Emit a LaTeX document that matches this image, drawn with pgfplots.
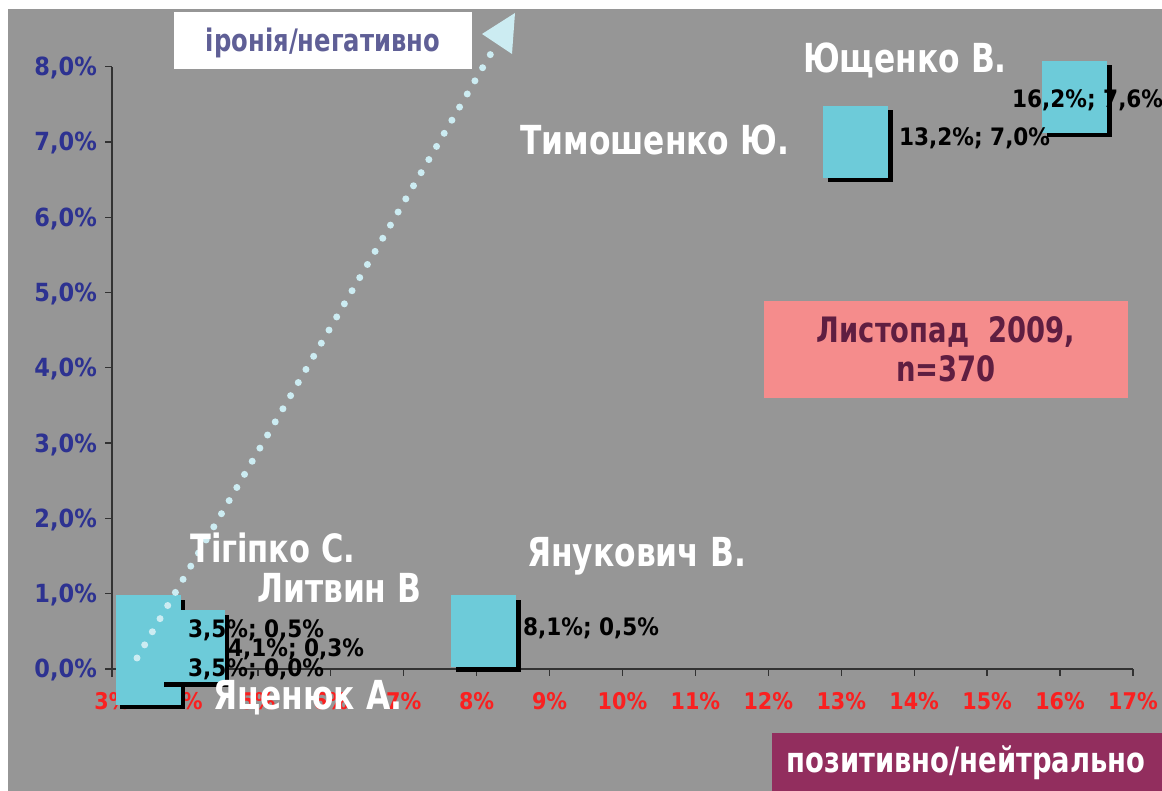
\documentclass[border=0pt]{standalone}
\usepackage{fontspec}
\setmainfont{DejaVu Sans Condensed}
\newfontfamily\nf{DejaVu Sans Condensed}[FakeStretch=0.87]
\usepackage{pgfplots}
\pgfplotsset{compat=1.18}
\definecolor{bggray}{RGB}{150,150,150}
\definecolor{boxcyan}{RGB}{109,203,217}
\definecolor{tickblue}{RGB}{45,50,145}
\definecolor{tickred}{RGB}{250,32,32}
\definecolor{axisdark}{RGB}{50,50,50}
\definecolor{pinkbox}{RGB}{245,140,140}
\definecolor{pinktext}{RGB}{95,30,65}
\definecolor{slatetext}{RGB}{95,95,150}
\definecolor{purplebox}{RGB}{146,46,94}
\definecolor{arrowcyan}{RGB}{204,236,242}
\pgfdeclareplotmark{shadowbox}{%
  \pgfsetfillcolor{black}%
  \pgfpathrectangle{\pgfpoint{-28bp}{-40.5bp}}{\pgfpoint{65bp}{72bp}}%
  \pgfusepathqfill
  \pgfsetfillcolor{boxcyan}%
  \pgfpathrectangle{\pgfpoint{-32.5bp}{-36bp}}{\pgfpoint{65bp}{72bp}}%
  \pgfusepathqfill
}
\newcommand{\fs}[1]{\fontsize{#1bp}{#1bp}\selectfont\bfseries}
\newcommand{\fn}[1]{\nf\fontsize{#1bp}{#1bp}\selectfont\bfseries}
\begin{document}
\begin{tikzpicture}
\path[use as bounding box] (0,0) rectangle (1162bp,791bp);
\fill[white] (0,0) rectangle (1162bp,791bp);
\fill[bggray] (8bp,0) rectangle (1162bp,782bp);
\begin{axis}[
  at={(112bp,122bp)}, anchor=south west,
  scale only axis, width=1021bp, height=602.4bp,
  xmin=3, xmax=17, ymin=0, ymax=8,
  clip=false,
  axis x line*=bottom, axis y line*=left,
  axis line style={draw=axisdark, line width=1.3bp},
  tick align=outside, major tick length=7bp,
  tick style={draw=axisdark, line width=1.3bp},
  xtick={3,4,5,6,7,8,9,10,11,12,13,14,15,16,17},
  xticklabels={3\%,4\%,5\%,6\%,7\%,8\%,9\%,10\%,11\%,12\%,13\%,14\%,15\%,16\%,17\%},
  ytick={0,1,2,3,4,5,6,7,8},
  yticklabels={{0,0\%},{1,0\%},{2,0\%},{3,0\%},{4,0\%},{5,0\%},{6,0\%},{7,0\%},{8,0\%}},
  xticklabel style={text=tickred, font=\fs{23}, anchor=base, inner sep=0pt, yshift=-34bp},
  yticklabel style={text=tickblue, font=\fs{25}, anchor=base east, inner sep=0pt, xshift=-8bp, yshift=-9bp},
]
\addplot[only marks, mark=shadowbox] coordinates {
  (16.2,7.6) (13.2,7.0) (8.1,0.5) (3.5,0.5) (3.5,0.0) (4.1,0.3)
};
\end{axis}
\begin{scope}[x=1bp, y=-1bp, shift={(0bp,791bp)}]
  \draw[axisdark, line width=1.3bp] (112,669) -- (112,677);
  % dotted arrow
  \draw[arrowcyan, line width=7bp, line cap=round, dash pattern=on 0bp off 15.2bp] (137,658) -- (493,50);
  \fill[arrowcyan] (515,13) -- (482,34) -- (512,54) -- cycle;
  % data labels
  \node[anchor=base west, inner sep=0pt, font=\fs{24}] at (1012,108) {16,2\%; 7,6\%};
  \node[anchor=base west, inner sep=0pt, font=\fs{24}] at (899,146) {13,2\%; 7,0\%};
  \node[anchor=base west, inner sep=0pt, font=\fs{24}] at (523,636) {8,1\%; 0,5\%};
  \node[anchor=base west, inner sep=0pt, font=\fs{24}] at (188,638) {3,5\%; 0,5\%};
  \node[anchor=base west, inner sep=0pt, font=\fs{24}] at (228,657) {4,1\%; 0,3\%};
  \node[anchor=base west, inner sep=0pt, font=\fs{24}] at (188,677) {3,5\%; 0,0\%};
  % names
  \node[anchor=base west, inner sep=0pt, text=white, font=\fn{40}] at (803,73) {Ющенко В.};
  \node[anchor=base west, inner sep=0pt, text=white, font=\fn{40}] at (520,155) {Тимошенко Ю.};
  \node[anchor=base west, inner sep=0pt, text=white, font=\fn{39}] at (190,563) {Тігіпко С.};
  \node[anchor=base west, inner sep=0pt, text=white, font=\fn{40}] at (257,603) {Литвин В};
  \node[anchor=base west, inner sep=0pt, text=white, font=\fn{40}] at (527,567) {Янукович В.};
  \node[anchor=base west, inner sep=0pt, text=white, font=\fn{40}] at (213,710) {Яценюк А.};
  % boxes
  \fill[white] (174,12) rectangle (472,69);
  \node[anchor=base, inner sep=0pt, text=slatetext, font=\fn{31}] at (323,52) {іронія/негативно};
  \fill[pinkbox] (764,301) rectangle (1128,398);
  \node[anchor=base, inner sep=0pt, text=pinktext, font=\fn{35}] at (946,343) {Листопад\ \ 2009,};
  \node[anchor=base, inner sep=0pt, text=pinktext, font=\fn{35}] at (946,382) {n=370};
  \fill[purplebox] (772,733) rectangle (1162,791);
  \node[anchor=base, inner sep=0pt, text=white, font=\fn{35}] at (966,773) {позитивно/нейтрально};
\end{scope}
\end{tikzpicture}
\end{document}
